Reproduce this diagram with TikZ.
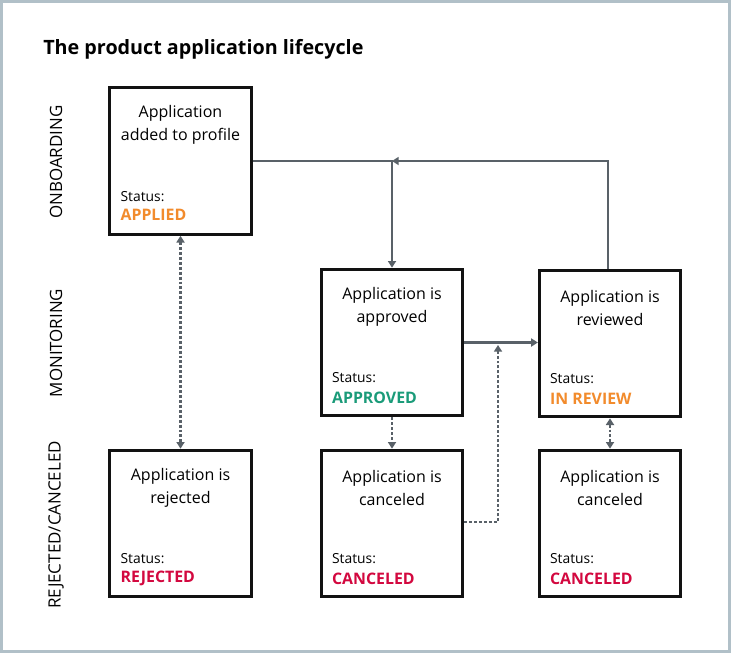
\documentclass[tikz,border=0pt]{standalone}
\usepackage{fontspec}
\setmainfont{Open Sans}
\usetikzlibrary{arrows.meta,calc}
\definecolor{framegray}{HTML}{B1C0C8}
\definecolor{linegray}{HTML}{596168}
\definecolor{storange}{HTML}{F28B2C}
\definecolor{stgreen}{HTML}{1A9B79}
\definecolor{stred}{HTML}{D3083F}
\tikzset{
  stagebox/.style={draw=black!93, line width=2.25pt, minimum width=106pt, minimum height=110pt, inner sep=0pt, fill=white},
  boxtext/.style={align=center, inner sep=0pt, font=\fontsize{12}{17}\selectfont},
  statuslbl/.style={anchor=west, inner sep=0pt, font=\fontsize{10.4}{12}\selectfont},
  statusval/.style={anchor=west, inner sep=0pt, font=\fontsize{11.9}{13}\selectfont\bfseries},
  sidelbl/.style={rotate=90, inner sep=0pt, font=\fontsize{12.7}{14}\selectfont},
  flow/.style={draw=linegray, line width=2pt, -{Triangle[width=6pt,length=5pt]}},
  dotflow/.style={draw=linegray, line width=2pt, dash pattern=on 2.2pt off 1.5pt},
}
\begin{document}
\begin{tikzpicture}[x=0.75pt,y=-0.75pt]
\useasboundingbox (0,0) rectangle (731,653);
\fill[white] (0,0) rectangle (731,653);
\draw[framegray, line width=2.25pt] (1.5,1.5) rectangle (729.5,651.5);

\node[anchor=west, inner sep=0pt, font=\fontsize{14.8}{16}\selectfont\bfseries] (title) at (43,49) {The product application lifecycle};

\node[sidelbl] (lon) at (56,162) {ONBOARDING};
\node[sidelbl] (lmon) at (56,343) {MONITORING};
\node[sidelbl] (lrej) at (56,525) {REJECTED/CANCELED};

% boxes
\node[stagebox] (b1) at (180.5,161) {};
\node[stagebox] (b2) at (392,342.5) {};
\node[stagebox] (b3) at (610,343.5) {};
\node[stagebox] (b4) at (180.5,523.5) {};
\node[stagebox] (b5) at (392,523.5) {};
\node[stagebox] (b6) at (610,523.5) {};

% texts
\node[boxtext] (t1) at ($(b1.north)+(0,38.5)$) {Application\\added to profile};
\node[statuslbl] (s1) at ($(b1.north west)+(12,110)$) {Status:};
\node[statusval, text=storange] (v1) at ($(b1.north west)+(12,129)$) {APPLIED};

\node[boxtext] (t2) at ($(b2.north)+(0,39.5)$) {Application is\\approved};
\node[statuslbl] (s2) at ($(b2.north west)+(12,110)$) {Status:};
\node[statusval, text=stgreen] (v2) at ($(b2.north west)+(12,130)$) {APPROVED};

\node[boxtext] (t3) at ($(b3.north)+(0,39.5)$) {Application is\\reviewed};
\node[statuslbl] (s3) at ($(b3.north west)+(12,110)$) {Status:};
\node[statusval, text=storange] (v3) at ($(b3.north west)+(12,130)$) {IN REVIEW};

\node[boxtext] (t4) at ($(b4.north)+(0,39.5)$) {Application is\\rejected};
\node[statuslbl] (s4) at ($(b4.north west)+(12,110)$) {Status:};
\node[statusval, text=stred] (v4) at ($(b4.north west)+(12,130)$) {REJECTED};

\node[boxtext] (t5) at ($(b5.north)+(0,39.5)$) {Application is\\canceled};
\node[statuslbl] (s5) at ($(b5.north west)+(12,110)$) {Status:};
\node[statusval, text=stred] (v5) at ($(b5.north west)+(12,130)$) {CANCELED};

\node[boxtext] (t6) at ($(b6.north)+(0,39.5)$) {Application is\\canceled};
\node[statuslbl] (s6) at ($(b6.north west)+(12,110)$) {Status:};
\node[statusval, text=stred] (v6) at ($(b6.north west)+(12,130)$) {CANCELED};

% connectors
\coordinate (j1) at (b2.north |- b1.east);
\coordinate (c1) at (498,345);
\draw[flow] (b3.north -| 608,0) |- (j1);
\draw[flow] (b1.east) -- (j1) -- (b2.north);
\draw[flow] (b2.east) -- (b2.east -| b3.west);
\draw[dotflow, {Triangle[width=6pt,length=5pt]}-{Triangle[width=6pt,length=5pt]}] (b1.south) -- (b4.north);
\draw[dotflow, -{Triangle[width=6pt,length=5pt]}] (b2.south) -- (b5.north);
\draw[dotflow, -{Triangle[width=6pt,length=5pt]}] (b5.east |- 0,522) -| (c1);
\draw[dotflow, {Triangle[width=6pt,length=5pt]}-{Triangle[width=6pt,length=5pt]}] (b3.south) -- (b6.north);
\end{tikzpicture}
\end{document}
